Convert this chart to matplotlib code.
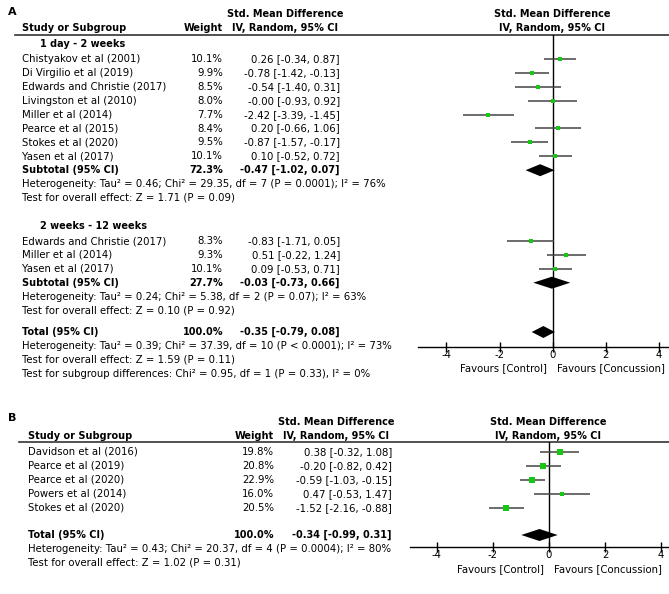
import matplotlib.pyplot as plt
from matplotlib.patches import Polygon
import numpy as np

plt.rcParams['font.family'] = 'DejaVu Sans'
plt.rcParams['axes.unicode_minus'] = False

W, H = 669, 594
GREEN = '#14c814'
LINE = '#444444'
FS = 7.25
FSB = 7.0  # bold text is set a touch smaller

### data, panel A
a1_names = ['Chistyakov et al (2001)', 'Di Virgilio et al (2019)', 'Edwards and Christie (2017)',
            'Livingston et al (2010)', 'Miller et al (2014)', 'Pearce et al (2015)',
            'Stokes et al (2020)', 'Yasen et al (2017)']
a1_weight = [10.1, 9.9, 8.5, 8.0, 7.7, 8.4, 9.5, 10.1]
a1_est = [0.26, -0.78, -0.54, -0.00, -2.42, 0.20, -0.87, 0.10]
a1_lo = [-0.34, -1.42, -1.40, -0.93, -3.39, -0.66, -1.57, -0.52]
a1_hi = [0.87, -0.13, 0.31, 0.92, -1.45, 1.06, -0.17, 0.72]
a1_sub = [72.3, -0.47, -1.02, 0.07]

a2_names = ['Edwards and Christie (2017)', 'Miller et al (2014)', 'Yasen et al (2017)']
a2_weight = [8.3, 9.3, 10.1]
a2_est = [-0.83, 0.51, 0.09]
a2_lo = [-1.71, -0.22, -0.53]
a2_hi = [0.05, 1.24, 0.71]
a2_sub = [27.7, -0.03, -0.73, 0.66]

a_total = [100.0, -0.35, -0.79, 0.08]

a_notes = ['Heterogeneity: Tau² = 0.46; Chi² = 29.35, df = 7 (P = 0.0001); I² = 76%',
           'Test for overall effect: Z = 1.71 (P = 0.09)',
           'Heterogeneity: Tau² = 0.24; Chi² = 5.38, df = 2 (P = 0.07); I² = 63%',
           'Test for overall effect: Z = 0.10 (P = 0.92)',
           'Heterogeneity: Tau² = 0.39; Chi² = 37.39, df = 10 (P < 0.0001); I² = 73%',
           'Test for overall effect: Z = 1.59 (P = 0.11)',
           'Test for subgroup differences: Chi² = 0.95, df = 1 (P = 0.33), I² = 0%']

### data, panel B
b_names = ['Davidson et al (2016)', 'Pearce et al (2019)', 'Pearce et al (2020)',
           'Powers et al (2014)', 'Stokes et al (2020)']
b_weight = [19.8, 20.8, 22.9, 16.0, 20.5]
b_est = [0.38, -0.20, -0.59, 0.47, -1.52]
b_lo = [-0.32, -0.82, -1.03, -0.53, -2.16]
b_hi = [1.08, 0.42, -0.15, 1.47, -0.88]
b_total = [100.0, -0.34, -0.99, 0.31]
b_notes = ['Heterogeneity: Tau² = 0.43; Chi² = 20.37, df = 4 (P = 0.0004); I² = 80%',
           'Test for overall effect: Z = 1.02 (P = 0.31)']

ticks = [-4, -2, 0, 2, 4]


def ci_text(est, lo, hi):
    return '{:.2f} [{:.2f}, {:.2f}]'.format(est, lo, hi)


fig = plt.figure(figsize=(W / 100, H / 100), dpi=100)
bg = fig.add_axes([0, 0, 1, 1])
bg.set_xlim(0, W)
bg.set_ylim(H, 0)
bg.axis('off')


def forest_axes(x0, x1, y0, y1, zero_px, px_per_unit):
    # axes placed in pixel space, x in effect units, y in pixel rows
    ax = fig.add_axes([x0 / W, 1 - y1 / H, (x1 - x0) / W, (y1 - y0) / H])
    ax.set_xlim((x0 - zero_px) / px_per_unit, (x1 - zero_px) / px_per_unit)
    ax.set_ylim(y1, y0)
    ax.patch.set_alpha(0)
    for s in ['top', 'right', 'left']:
        ax.spines[s].set_visible(False)
    ax.spines['bottom'].set_linewidth(1.0)
    ax.set_yticks([])
    ax.set_xticks(ticks)
    ax.set_xticklabels([str(t) for t in ticks])
    ax.tick_params(axis='x', direction='inout', length=7, width=1.0, pad=-1.5, labelsize=FS)
    ax.axvline(0, color='black', lw=1.0)
    return ax


def study(ax, y, w, est, lo, hi, k):
    ax.plot([lo, hi], [y, y], color=LINE, lw=1.1, solid_capstyle='butt')
    ax.plot(est, y, marker='s', color=GREEN, ms=k * w, mec=GREEN, mew=0)


def diamond(ax, y, est, lo, hi, h=12):
    ax.add_patch(Polygon([[lo, y], [est, y - h / 2], [hi, y], [est, y + h / 2]],
                         closed=True, color='black', lw=0))


def row_text(y, name, w, est, lo, hi, xs, bold=False):
    fw = 'bold' if bold else 'normal'
    fs = FSB if bold else FS
    bg.text(xs[0], y, name, ha='left', va='center', fontsize=fs, fontweight=fw)
    bg.text(xs[1], y, '{:.1f}%'.format(w), ha='right', va='center', fontsize=fs, fontweight=fw)
    bg.text(xs[2], y, ci_text(est, lo, hi), ha='right', va='center', fontsize=fs, fontweight=fw)


def header(yl, xs, hdr_l, hdr_r, line_x0):
    y1, y2, yline = yl
    bg.text(xs[0], y2, 'Study or Subgroup', ha='left', va='center', fontsize=FSB, fontweight='bold')
    bg.text(xs[1], y2, 'Weight', ha='right', va='center', fontsize=FSB, fontweight='bold')
    for xc in [hdr_l, hdr_r]:
        bg.text(xc, y1, 'Std. Mean Difference', ha='center', va='center', fontsize=FSB, fontweight='bold')
        bg.text(xc, y2, 'IV, Random, 95% CI', ha='center', va='center', fontsize=FSB, fontweight='bold')
    bg.plot([line_x0, W], [yline, yline], color='#333333', lw=1.2)


### Panel A
xa = [22, 223, 340]
bg.text(8, 12, 'A', fontsize=8, fontweight='bold', va='center')
header([14, 28, 35], xa, 285, 552, 15)
axA = forest_axes(418, W, 35, 347, 552.7, 26.6)

pitch = 13.9
bg.text(40, 44, '1 day - 2 weeks', fontsize=FSB, fontweight='bold', va='center')
for i in range(len(a1_names)):
    y = 59 + pitch * i
    row_text(y, a1_names[i], a1_weight[i], a1_est[i], a1_lo[i], a1_hi[i], xa)
    study(axA, y, a1_weight[i], a1_est[i], a1_lo[i], a1_hi[i], 0.34)
y = 59 + pitch * len(a1_names)
row_text(y, 'Subtotal (95% CI)', *a1_sub, xa, bold=True)
diamond(axA, y, a1_sub[1], a1_sub[2], a1_sub[3])
bg.text(xa[0], y + pitch, a_notes[0], fontsize=FS, va='center')
bg.text(xa[0], y + 2 * pitch, a_notes[1], fontsize=FS, va='center')

bg.text(40, 226, '2 weeks - 12 weeks', fontsize=FSB, fontweight='bold', va='center')
for i in range(len(a2_names)):
    y = 241 + pitch * i
    row_text(y, a2_names[i], a2_weight[i], a2_est[i], a2_lo[i], a2_hi[i], xa)
    study(axA, y, a2_weight[i], a2_est[i], a2_lo[i], a2_hi[i], 0.34)
y = 241 + pitch * len(a2_names)
row_text(y, 'Subtotal (95% CI)', *a2_sub, xa, bold=True)
diamond(axA, y, a2_sub[1], a2_sub[2], a2_sub[3])
bg.text(xa[0], y + pitch, a_notes[2], fontsize=FS, va='center')
bg.text(xa[0], y + 2 * pitch, a_notes[3], fontsize=FS, va='center')

y = 332
row_text(y, 'Total (95% CI)', *a_total, xa, bold=True)
diamond(axA, y, a_total[1], a_total[2], a_total[3])
for j, note in enumerate(a_notes[4:]):
    bg.text(xa[0], y + pitch * (j + 1), note, fontsize=FS, va='center')
bg.text(547, 368, 'Favours [Control]', ha='right', va='center', fontsize=FS)
bg.text(557, 368, 'Favours [Concussion]', ha='left', va='center', fontsize=FS)

### Panel B
xb = [28, 274, 392]
bg.text(8, 418, 'B', fontsize=8, fontweight='bold', va='center')
header([422, 436, 442], xb, 336, 548, 19)
axB = forest_axes(410, W, 442, 547, 549, 28)

for i in range(len(b_names)):
    y = 452 + pitch * i
    row_text(y, b_names[i], b_weight[i], b_est[i], b_lo[i], b_hi[i], xb)
    study(axB, y, b_weight[i], b_est[i], b_lo[i], b_hi[i], 0.22)
y = 535
row_text(y, 'Total (95% CI)', *b_total, xb, bold=True)
diamond(axB, y, b_total[1], b_total[2], b_total[3])
for j, note in enumerate(b_notes):
    bg.text(xb[0], y + pitch * (j + 1), note, fontsize=FS, va='center')
bg.text(544, 569, 'Favours [Control]', ha='right', va='center', fontsize=FS)
bg.text(554, 569, 'Favours [Concussion]', ha='left', va='center', fontsize=FS)

plt.savefig('out.png', dpi=100)
